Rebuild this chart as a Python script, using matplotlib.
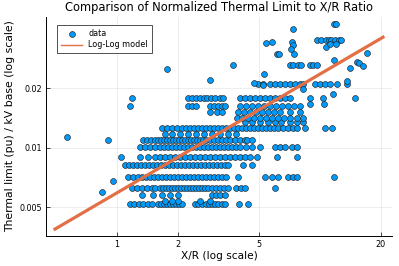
import numpy as np
import matplotlib
matplotlib.use("Agg")
import matplotlib.pyplot as plt
from matplotlib.ticker import FixedLocator, FixedFormatter, NullLocator

# Thermal limit levels (pu / kV base) and the X/R ratios of the points sitting on them
y_a = 0.0052
xr_a = [1.16, 1.21, 1.28, 1.34, 1.42, 1.49, 1.59, 1.65, 1.70, 1.76, 1.83, 1.89, 1.95, 2.02, 2.09,
        2.43, 2.51, 2.63, 2.75, 2.85, 2.94, 3.05, 3.15, 3.30, 3.41, 4.00, 4.43]
y_a2 = 0.00537
xr_a2 = [1.73, 1.86, 1.99, 2.57, 2.88]
y_a3 = 0.00577
xr_a3 = [1.33, 1.51, 1.67, 1.83, 1.99, 2.94, 3.08, 3.22, 3.41]
y_b = 0.00625
xr_b = [1.19, 1.255, 1.33, 1.41, 1.49, 1.54, 1.63, 1.69, 1.745, 1.805, 1.87, 1.93, 2.00, 2.07,
        2.14, 2.215, 2.29, 2.37, 2.45, 2.54, 2.63, 2.72, 2.81, 2.94, 3.08, 3.22, 3.37, 3.53,
        3.86, 4.09, 4.28, 6.02]
y_c = 0.0071
xr_c = [1.13, 1.20, 1.27, 1.33, 1.39, 1.455, 1.52, 1.59, 1.67, 1.745, 1.83, 1.91, 2.00, 2.09,
        2.19, 2.29, 2.40, 2.51, 2.63, 2.75, 2.88, 3.01, 3.15, 3.30, 3.45, 3.95, 5.37, 5.82,
        6.23, 6.98, 7.38, 7.73, 11.77]
y_d = 0.0082
xr_d = [1.095, 1.146, 1.20, 1.255, 1.31, 1.374, 1.44, 1.505, 1.575, 1.65, 1.725, 1.805, 1.89,
        1.98, 2.07, 2.165, 2.27, 2.37, 2.48, 2.60, 2.72, 2.845, 2.98, 3.115, 3.26, 3.41, 3.53,
        4.19, 4.64]
y_e = 0.0090
xr_e = [1.04, 1.30, 1.42, 1.54, 1.63, 1.725, 1.83, 1.93, 2.05, 2.165, 2.29, 2.43, 2.57, 2.72,
        2.88, 3.05, 3.22, 3.41, 3.61, 3.82, 4.05, 4.28, 4.53, 4.91, 6.16, 7.73]
y_f = 0.0101
xr_f = [1.30, 1.374, 1.455, 1.54, 1.63, 1.705, 1.785, 1.87, 1.955, 2.05, 2.14, 2.24, 2.34, 2.45,
        2.57, 2.69, 2.81, 2.94, 3.08, 3.22, 3.37, 3.53, 3.69, 3.86, 4.05, 4.33, 4.64, 5.08,
        6.02, 6.37, 6.74, 7.30, 7.73]
y_g = 0.0109
xr_g = [0.90, 1.343, 1.406, 1.47, 1.54, 1.59, 1.65, 1.705, 1.765, 1.83, 1.89, 1.955, 2.02, 2.09,
        2.165, 2.24, 2.32, 2.40, 2.48, 2.57, 2.66, 2.75, 2.88, 3.01, 3.15, 3.30, 3.45, 3.61,
        3.82, 4.05, 4.28, 4.38, 4.64]
y_g2 = 0.0117
xr_g2 = [1.725, 1.87, 2.05, 2.24, 2.45, 2.69, 2.94, 3.22, 3.53, 3.86]
y_h = 0.0126
xr_h = [1.67, 1.765, 1.87, 1.98, 2.09, 2.19, 2.29, 2.40, 2.51, 2.63, 2.75, 2.88, 3.01, 3.15,
        3.30, 3.45, 3.61, 3.78, 3.95, 4.14, 4.33, 4.53, 4.74, 4.96, 5.19, 5.43, 5.69, 5.95,
        6.23, 6.59, 6.98, 7.38, 7.73, 8.46, 10.62, 11.5]
y_i = 0.0135
xr_i = [4.28, 4.64, 5.08, 5.56, 6.02, 6.44, 7.14, 7.73, 8.27]
y_j = 0.0141
xr_j = [3.91, 4.14, 4.43, 4.74, 5.08, 5.43, 5.82, 6.23, 6.67, 7.14, 7.73, 8.27]
y_k = 0.0152
xr_k = [2.88, 3.11, 3.30, 3.95, 4.23, 4.53, 4.85, 5.19, 5.56, 5.95, 6.37, 7.14, 8.00]
y_l = 0.0163
xr_l = [1.16, 2.24, 2.34, 2.45, 2.88, 3.01, 3.15, 3.30, 3.41, 4.05, 4.33, 4.64, 4.96, 5.31,
        5.69, 6.09, 6.52, 6.98, 7.47, 8.00]
y_m = 0.0178
xr_m = [1.19, 2.24, 2.34, 2.45, 2.57, 2.69, 2.78, 2.91, 3.05, 3.22, 3.33, 4.05, 4.28, 4.53,
        4.80, 5.08, 5.37, 5.69, 6.02, 6.37, 6.74, 7.14, 8.96, 10.38]
y_n = 0.0210
xr_n = [4.96, 5.25, 5.69, 6.02, 6.37, 6.74, 7.14, 7.55, 8.00, 8.27, 9.48, 10.03, 10.62, 11.24,
        12.17, 13.64]
y_o = 0.0262
xr_o = [3.75, 7.14, 7.38, 7.81, 8.09, 8.96, 9.27, 9.70]
y_p = 0.0352
xr_p = [9.70, 10.1, 10.74, 11.1, 11.4, 11.9, 12.4, 12.7]
y_q = 0.0423
xr_q = [11.77, 12.04]

# points that are not on a level
xr_single = [0.565, 0.952, 0.843, 1.76, 2.88, 5.45, 5.84, 5.31, 4.75, 5.27, 6.14, 7.36, 7.28,
             7.36, 7.20, 6.32, 7.50, 10.7, 11.77, 14.11, 15.2, 15.6, 16.4, 17.1, 13.6, 11.66,
             14.93, 10.44, 8.90, 8.30, 11.24, 12.0]
th_single = [0.01137, 0.00681, 0.00599, 0.0251, 0.0219, 0.0337, 0.0341, 0.0235, 0.0212, 0.0207,
             0.0297, 0.0397, 0.0341, 0.0330, 0.0317, 0.0297, 0.0297, 0.0323, 0.0279, 0.0253,
             0.0271, 0.0267, 0.0260, 0.0301, 0.0217, 0.01875, 0.01778, 0.0166, 0.0166, 0.0197,
             0.0336, 0.0336]

# Log-Log model end points
model_x = [0.494, 20.5]
model_y = [0.00388, 0.0362]

levels = [(y_a, xr_a), (y_a2, xr_a2), (y_a3, xr_a3), (y_b, xr_b), (y_c, xr_c), (y_d, xr_d),
          (y_e, xr_e), (y_f, xr_f), (y_g, xr_g), (y_g2, xr_g2), (y_h, xr_h), (y_i, xr_i),
          (y_j, xr_j), (y_k, xr_k), (y_l, xr_l), (y_m, xr_m), (y_n, xr_n), (y_o, xr_o),
          (y_p, xr_p), (y_q, xr_q)]
xr = np.concatenate([xs for _, xs in levels] + [xr_single])
th = np.concatenate([np.full(len(xs), lv) for lv, xs in levels] + [th_single])

fig = plt.figure(figsize=(3.99, 2.66), dpi=100)
ax = fig.add_axes([46 / 399, 30 / 266, 346 / 399, 219 / 266])

ax.scatter(xr, th, s=18, color='#009AFA', edgecolors='#222222', linewidths=0.45,
           label='data', zorder=3)
ax.plot(model_x, model_y, color='#E26F46', lw=2.3, label='Log-Log model', zorder=4)

ax.set_xscale('log')
ax.set_yscale('log')
ax.set_xlim(0.446, 22.7)
ax.set_ylim(0.00358, 0.0458)

ax.xaxis.set_major_locator(FixedLocator([1, 2, 5, 20]))
ax.xaxis.set_major_formatter(FixedFormatter(['1', '2', '5', '20']))
ax.xaxis.set_minor_locator(NullLocator())
ax.yaxis.set_major_locator(FixedLocator([0.005, 0.01, 0.02]))
ax.yaxis.set_major_formatter(FixedFormatter(['0.005', '0.01', '0.02']))
ax.yaxis.set_minor_locator(NullLocator())
ax.tick_params(direction='in', length=3, width=0.5, labelsize=5.8, pad=3)

ax.grid(True, color='black', alpha=0.1, lw=0.5)
ax.set_axisbelow(True)
for side in ['top', 'right']:
    ax.spines[side].set_visible(False)
for side in ['left', 'bottom']:
    ax.spines[side].set_linewidth(0.7)

ax.set_title('Comparison of Normalized Thermal Limit to X/R Ratio', fontsize=8.3, pad=4)
ax.set_xlabel('X/R (log scale)', fontsize=7.6, labelpad=1)
ax.set_ylabel('Thermal limit (pu) / kV base (log scale)', fontsize=7.8, labelpad=3)

leg = ax.legend(loc='upper left', bbox_to_anchor=(0.032, 0.962), borderaxespad=0,
                fontsize=5.8, fancybox=False, edgecolor='#333333', framealpha=1,
                handlelength=2.6, borderpad=0.5, labelspacing=0.25)
leg.get_frame().set_linewidth(0.6)
leg.legend_handles[1].set_linewidth(1)

fig.savefig('out.png', dpi=100)
